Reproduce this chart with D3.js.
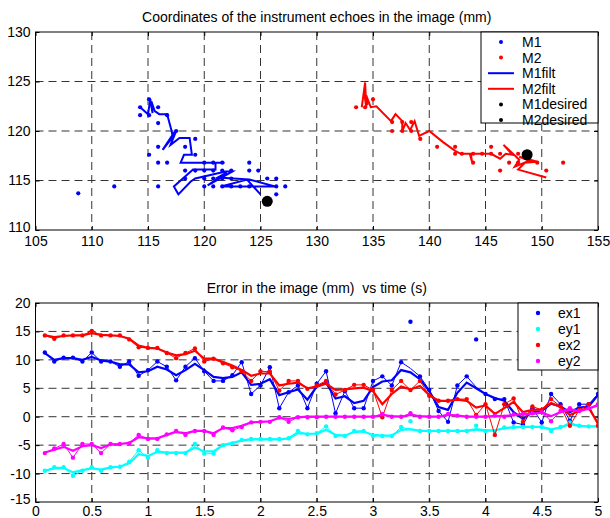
<!DOCTYPE html>
<html>
<head>
<meta charset="utf-8">
<script src="https://cdn.jsdelivr.net/npm/d3@7"></script>
<style>
  body { margin: 0; background: #fff; }
  svg { display: block; font-family: "Liberation Sans", Arial, sans-serif; }
  .tick text { font-size: 14px; fill: #000; }
</style>
</head>
<body>
<div id="chart"></div>
<script>
// ---- data ----
// top plot: echo positions in image (mm)
var m1Raw = [[108.8,113.7],[112.0,114.4],[114.3,122.4],[114.3,121.6],[115.1,121.6],[115.1,123.2],
  [115.9,122.4],[116.7,121.6],[115.9,120.8],[115.1,117.6],[115.9,118.4],[115.9,116.8],[116.7,116.8],
  [115.9,114.4],[117.5,120.0],[118.3,118.4],[119.2,119.2],[119.2,117.6],[118.3,116.0],[119.2,116.0],
  [120.0,116.8],[120.0,116.0],[120.8,116.8],[121.6,116.8],[120.8,116.0],[121.6,116.0],[122.4,116.0],
  [118.3,115.2],[120.0,115.2],[120.8,115.2],[121.6,115.2],[122.4,115.2],[120.0,114.4],[120.8,114.4],
  [121.6,114.4],[122.4,114.4],[123.2,114.4],[124.0,114.4],[124.0,116.8],[124.0,116.0],[124.8,116.0],
  [125.6,115.2],[126.4,115.2],[126.4,114.4],[127.2,114.4],[126.4,113.6]];
var m2Raw = [[133.5,122.4],[134.3,122.4],[135.0,123.2],[136.7,120.9],[136.7,120.0],[137.6,120.9],
  [137.6,120.0],[138.4,120.9],[138.4,120.0],[139.2,119.2],[140.7,118.4],[142.3,118.4],[142.3,117.7],
  [142.9,117.7],[143.9,116.8],[143.9,117.7],[144.7,117.7],[145.5,118.4],[145.5,117.7],[146.3,116.0],
  [146.3,117.7],[147.1,116.8],[147.9,116.8],[147.9,117.7],[148.7,117.7],[149.6,116.8],[150.4,116.0],
  [151.9,116.8]];
var m1Filt = [[114.3,122.4],[115.0,121.7],[115.2,123.2],[115.4,121.8],[115.3,123.0],[115.6,122.0],
  [116.0,121.7],[116.7,121.7],[117.1,120.0],[117.2,119.4],[116.3,118.1],[117.3,119.8],[117.5,120.0],
  [117.0,118.6],[117.8,119.3],[118.7,119.3],[118.9,117.6],[118.2,117.6],[117.9,116.8],[121.8,116.8],
  [121.0,116.8],[121.0,116.1],[119.0,116.1],[117.3,114.4],[117.7,113.6],[118.8,114.9],[119.2,115.2],
  [121.9,115.9],[122.5,115.9],[120.3,114.5],[122.0,115.8],[121.2,115.3],[124.0,115.1],[126.3,114.4],
  [125.0,114.4],[121.5,114.4],[123.8,115.1],[125.0,113.6]];
var m2Filt = [[134.0,122.4],[134.3,124.9],[134.4,122.4],[134.2,124.0],[134.5,122.6],[134.4,123.6],
  [134.8,122.4],[135.3,122.5],[136.6,121.0],[137.0,121.7],[137.6,121.0],[137.6,120.0],[137.9,120.8],
  [138.3,120.1],[138.7,121.0],[139.1,119.5],[140.0,120.0],[141.2,118.9],[142.3,118.0],[142.8,117.7],
  [143.6,117.7],[143.8,116.9],[143.7,117.7],[145.5,117.7],[146.3,117.2],[146.8,117.7],[147.4,117.6],
  [146.6,118.6],[148.0,117.1],[147.6,116.4],[148.9,117.0],[148.0,117.4],[149.6,116.9],[148.5,116.8],
  [147.9,116.1],[150.4,115.3]];
var desired = [[125.6,112.9],[148.7,117.6]];

// bottom plot: errors vs time
var times = [0.083,0.167,0.25,0.333,0.417,0.5,0.583,0.667,0.75,0.833,0.917,1,1.083,1.167,1.25,
  1.333,1.417,1.5,1.583,1.667,1.75,1.833,1.917,2,2.083,2.167,2.25,2.333,2.417,2.5,2.583,2.667,2.75,
  2.833,2.917,3,3.083,3.167,3.25,3.333,3.417,3.5,3.583,3.667,3.75,3.833,3.917,4,4.083,4.167,4.25,
  4.333,4.417,4.5,4.583,4.667,4.75,4.833,4.917,5];
var ex1 = [11.3,9.7,10.4,10.4,9.7,11.3,9.7,9.7,8.8,9.7, 7.2,8.2,9.7,8.8,6.4,8.8,10.3,8.0,6.3,6.3,
  7.3,9.6,4.0,5.5,8.7,1.5,4.3,5.5,1.5,5.8, 8.0,0.6,4.5,1.5,1.5,6.3,7.1,5.5,9.6,16.7,
  7.1,4.7,1.0,-0.9,5.5,7.1,13.6,4.0,3.1,3.1, -1.0,-1.4,1.5,-1.0,4.0,2.2,-0.7,2.2,2.2,4.0];
// thin line for ex1 skips the two outliers
var ex1Thin = [11.3,9.7,10.4,10.4,9.7,11.3,9.7,9.7,8.8,9.7, 7.2,8.2,9.7,8.8,6.4,8.8,10.3,8.0,6.3,6.3,
  7.3,9.6,4.0,5.5,8.7,1.5,4.3,5.5,1.5,5.8, 8.0,0.6,4.5,1.5,1.5,6.3,7.1,5.5,9.6,8.5,
  7.1,4.7,1.0,-0.9,5.5,7.1,5.2,4.0,3.1,3.1, -1.0,-1.4,1.5,-1.0,4.0,2.2,-0.7,2.2,2.2,4.0];
var ex1f = [11.2,10.0,10.3,10.3,10.0,10.5,9.9,9.7,9.2,9.2, 7.8,8.0,8.8,8.3,7.3,8.2,9.3,8.2,7.0,6.8,
  7.0,7.8,5.6,5.8,6.6,3.8,4.3,4.8,3.0,5.3, 6.0,3.2,3.6,2.4,2.8,5.2,6.2,6.4,8.2,7.8,
  6.6,4.5,1.7,1.2,4.2,6.0,5.0,4.0,3.3,2.8, 0.8,-0.4,0.8,1.0,2.3,1.8,0.8,1.6,1.8,3.8];
var ey1 = [-9.5,-8.9,-8.9,-10.4,-9.5,-8.9,-9.5,-8.9,-8.8,-7.9, -5.9,-7.2,-5.9,-6.4,-6.4,-6.4,-4.8,-6.5,-6.5,-5.0,
  -4.7,-4.1,-3.9,-3.9,-3.9,-3.9,-3.8,-2.5,-3.1,-2.9, -1.7,-3.4,-3.4,-2.5,-2.5,-3.4,-3.4,-3.4,-1.8,-0.8,
  -2.5,-2.5,-2.5,-2.5,-2.5,-2.5,-1.6,-2.5,-2.5,-1.9, -1.8,-1.8,-1.8,-1.8,-2.5,-1.8,-1.0,-1.6,-1.7,-1.7];
var ey1Thin = [-9.5,-8.9,-8.9,-10.4,-9.5,-8.9,-9.5,-8.9,-8.8,-7.9, -5.9,-7.2,-5.9,-6.4,-6.4,-6.4,-4.8,-6.5,-6.5,-5.0,
  -4.7,-4.1,-3.9,-3.9,-3.9,-3.9,-3.8,-2.5,-3.1,-2.9, -1.7,-3.4,-3.4,-2.5,-2.5,-3.4,-3.4,-3.4,-1.8,-2.3,
  -2.5,-2.5,-2.5,-2.5,-2.5,-2.5,-2.4,-2.5,-2.5,-1.9, -1.8,-1.8,-1.8,-1.8,-2.5,-1.8,-1.0,-1.6,-1.7,-1.7];
var ey1f = [-9.5,-9.1,-9.0,-9.8,-9.4,-9.1,-9.3,-8.9,-8.8,-8.2, -6.6,-6.9,-6.2,-6.3,-6.3,-6.3,-5.4,-6.1,-6.1,-5.0,
  -4.6,-4.2,-4.0,-4.0,-4.0,-4.0,-3.8,-2.9,-3.0,-3.0, -2.3,-3.2,-3.3,-2.7,-2.6,-3.2,-3.3,-3.3,-2.3,-2.2,
  -2.5,-2.5,-2.5,-2.5,-2.5,-2.5,-2.2,-2.4,-2.4,-2.0, -1.9,-1.8,-1.8,-1.8,-2.2,-1.9,-1.3,-1.6,-1.7,-1.7];
var ex2 = [14.3,13.7,14.3,14.3,14.3,15.1,14.3,14.3,14.3,13.6, 12.2,12.1,12.1,11.2,10.3,11.2,12.0,9.7,10.2,9.4,
  8.7,8.0,6.3,8.0,7.9,4.6,6.3,6.3,4.9,5.5, 6.3,3.9,4.7,5.6,5.6,4.7,-0.1,4.7,6.3,4.7,
  6.3,3.7,2.8,2.8,3.1,3.1,0.3,2.2,-3.2,2.2, 3.2,-0.9,1.8,1.2,3.1,1.8,-1.6,1.2,2.2,-1.6];
var ex2f = [14.3,14.0,14.2,14.3,14.3,14.7,14.4,14.3,14.2,13.7, 12.5,12.1,12.0,11.3,10.8,11.0,11.6,10.2,10.2,9.6,
  9.0,8.2,7.2,7.6,7.6,5.5,5.8,6.0,5.0,5.3, 5.8,4.7,4.8,5.0,5.1,4.5,2.2,4.0,5.3,4.8,
  5.4,3.8,2.8,2.8,3.0,2.8,1.6,2.0,0.5,1.5, 2.6,0.8,1.2,1.3,2.4,1.7,0.3,1.0,1.6,-1.2];
var ey2 = [-6.4,-5.6,-4.8,-7.2,-4.8,-4.8,-6.4,-4.8,-4.8,-4.7, -3.2,-3.9,-3.9,-3.1,-2.5,-3.2,-2.5,-2.5,-3.2,-1.9,
  -2.4,-1.8,-1.0,-0.9,-0.9,-0.1,-0.9,-0.1,-0.1,-0.1, 0,0,0,0,0,0,0.5,0,0,0.6,
  0,0,0,0.5,0.2,0,0,0,0.2,0, 0.4,0.5,0.6,0.8,-0.8,1.0,1.5,1.0,1.5,2.2];
var ey2f = [-6.3,-5.8,-5.3,-6.0,-5.2,-5.0,-5.5,-4.9,-4.8,-4.6, -3.6,-3.8,-3.8,-3.2,-2.7,-2.9,-2.5,-2.5,-2.9,-2.0,
  -2.0,-1.6,-1.0,-0.9,-0.8,-0.2,-0.4,-0.1,0,0, 0,0,0,0,0,0,0.3,0.1,0,0.3,
  0.1,0,0,0.3,0.2,0,0,0,0.1,0.1, 0.3,0.4,0.5,0.7,0.1,0.8,1.2,1.0,1.4,2.0];

var topXTicks = [105,110,115,120,125,130,135,140,145,150,155];
var topYTicks = [110,115,120,125,130];
var botXTicks = [0,0.5,1,1.5,2,2.5,3,3.5,4,4.5,5];
var botYTicks = [-15,-10,-5,0,5,10,15,20];

var topLegend = ["M1","M2","M1filt","M2filt","M1desired","M2desired"];
var botLegend = ["ex1","ey1","ex2","ey2"];

// ---- drawing ----
var W = 610, H = 518;
var svg = d3.select("#chart").append("svg")
  .attr("width", W).attr("height", H);

var left = 35.5, right = 598;

// draws grid, box, ticks and title for one axes; returns the group
function makeAxes(x, y, xt, yt, top, bottom, title, titleY, id, xPad) {
  var g = svg.append("g");
  // grid
  g.selectAll(".gx").data(xt.slice(1, -1)).enter().append("line")
    .attr("x1", d => x(d)).attr("x2", d => x(d))
    .attr("y1", top).attr("y2", bottom)
    .attr("stroke", "#333").attr("stroke-dasharray", "8,5");
  g.selectAll(".gy").data(yt.slice(1, -1)).enter().append("line")
    .attr("y1", d => y(d)).attr("y2", d => y(d))
    .attr("x1", left).attr("x2", right)
    .attr("stroke", "#333").attr("stroke-dasharray", "8,5");

  g.append("clipPath").attr("id", id)
    .append("rect").attr("x", left).attr("y", top)
    .attr("width", right - left).attr("height", bottom - top);

  // axes with inward ticks
  var fmt = d => String(d);
  g.append("g").attr("transform", "translate(0," + bottom + ")")
    .call(d3.axisBottom(x).tickValues(xt).tickFormat(fmt).tickSize(-4).tickPadding(xPad))
    .call(a => a.select(".domain").remove());
  g.append("g").attr("transform", "translate(0," + top + ")")
    .call(d3.axisTop(x).tickValues(xt).tickFormat("").tickSize(-4))
    .call(a => a.select(".domain").remove());
  var ya = g.append("g").attr("transform", "translate(" + left + ",0)")
    .call(d3.axisLeft(y).tickValues(yt).tickFormat(fmt).tickSize(-4).tickPadding(5))
    .call(a => a.select(".domain").remove());
  // lowest y label sits a touch higher so it clears the first x label
  ya.selectAll(".tick text").filter(d => d === yt[0]).attr("dy", "0.1em");
  g.append("g").attr("transform", "translate(" + right + ",0)")
    .call(d3.axisRight(y).tickValues(yt).tickFormat("").tickSize(-4))
    .call(a => a.select(".domain").remove());
  g.selectAll(".tick line").attr("stroke", "#000");

  g.append("rect").attr("x", left).attr("y", top)
    .attr("width", right - left).attr("height", bottom - top)
    .attr("fill", "none").attr("stroke", "#000");

  svg.append("text").attr("x", (left + right) / 2).attr("y", titleY)
    .attr("text-anchor", "middle").style("font-size", "14px")
    .style("white-space", "pre")
    .text(title);
  return g;
}

// ---------- top plot ----------
var x1 = d3.scaleLinear().domain([105, 155]).range([left, right]);
var y1 = d3.scaleLinear().domain([110, 130]).range([230, 32]);
var gTop = makeAxes(x1, y1, topXTicks, topYTicks, 32, 230,
  "Coordinates of the instrument echoes in the image (mm)", 22, "clipTop", 6);

var pTop = gTop.append("g").attr("clip-path", "url(#clipTop)");
var line1 = d3.line().x(d => x1(d[0])).y(d => y1(d[1]));

pTop.append("path").datum(m1Filt).attr("d", line1)
  .attr("fill", "none").attr("stroke", "#0000ff").attr("stroke-width", 2);
pTop.append("path").datum(m2Filt).attr("d", line1)
  .attr("fill", "none").attr("stroke", "#ff0000").attr("stroke-width", 2);
pTop.selectAll(".m1").data(m1Raw).enter().append("circle")
  .attr("cx", d => x1(d[0])).attr("cy", d => y1(d[1])).attr("r", 2.1).attr("fill", "#0000ff");
pTop.selectAll(".m2").data(m2Raw).enter().append("circle")
  .attr("cx", d => x1(d[0])).attr("cy", d => y1(d[1])).attr("r", 2.1).attr("fill", "#ff0000");
pTop.selectAll(".des").data(desired).enter().append("circle")
  .attr("cx", d => x1(d[0])).attr("cy", d => y1(d[1])).attr("r", 5.5).attr("fill", "#000");

// top legend
var lg1 = svg.append("g");
lg1.append("rect").attr("x", 481).attr("y", 32).attr("width", 117).attr("height", 91)
  .attr("fill", "#fff").attr("stroke", "#000");
var topColors = ["#0000ff", "#ff0000", "#0000ff", "#ff0000", "#000", "#000"];
topLegend.forEach(function(name, i) {
  var yy = 42 + i * 15.6;
  if (name.indexOf("filt") > 0) {
    lg1.append("line").attr("x1", 488).attr("x2", 514).attr("y1", yy).attr("y2", yy)
      .attr("stroke", topColors[i]).attr("stroke-width", 2);
  } else {
    lg1.append("circle").attr("cx", 501).attr("cy", yy).attr("r", 2).attr("fill", topColors[i]);
  }
  lg1.append("text").attr("x", 522).attr("y", yy).attr("dy", "0.36em")
    .style("font-size", "14px").text(name);
});

// ---------- bottom plot ----------
var x2 = d3.scaleLinear().domain([0, 5]).range([left, right]);
var y2 = d3.scaleLinear().domain([-15, 20]).range([502, 303]);
var gBot = makeAxes(x2, y2, botXTicks, botYTicks, 303, 502,
  "Error in the image (mm)  vs time (s)", 293, "clipBot", 4);

var pBot = gBot.append("g").attr("clip-path", "url(#clipBot)");
var line2 = d3.line().x((d, i) => x2(times[i])).y(d => y2(d));

var series = [
  {raw: ex1, thin: ex1Thin, filt: ex1f, color: "#0000ff"},
  {raw: ey1, thin: ey1Thin, filt: ey1f, color: "#00ffff"},
  {raw: ex2, thin: ex2, filt: ex2f, color: "#ff0000"},
  {raw: ey2, thin: ey2, filt: ey2f, color: "#ff00ff"}
];
series.forEach(function(s) {
  pBot.append("path").datum(s.thin).attr("d", line2)
    .attr("fill", "none").attr("stroke", s.color).attr("stroke-width", 1);
  pBot.append("path").datum(s.filt).attr("d", line2)
    .attr("fill", "none").attr("stroke", s.color).attr("stroke-width", 2.2);
  pBot.selectAll(null).data(s.raw).enter().append("circle")
    .attr("cx", (d, i) => x2(times[i])).attr("cy", d => y2(d))
    .attr("r", 2.2).attr("fill", s.color);
});

// bottom legend
var lg2 = svg.append("g");
lg2.append("rect").attr("x", 518).attr("y", 303).attr("width", 80).attr("height", 67)
  .attr("fill", "#fff").attr("stroke", "#000");
botLegend.forEach(function(name, i) {
  var yy = 313 + i * 16;
  lg2.append("circle").attr("cx", 538).attr("cy", yy).attr("r", 2.2).attr("fill", series[i].color);
  lg2.append("text").attr("x", 558).attr("y", yy).attr("dy", "0.36em")
    .style("font-size", "14px").text(name);
});
</script>
</body>
</html>
